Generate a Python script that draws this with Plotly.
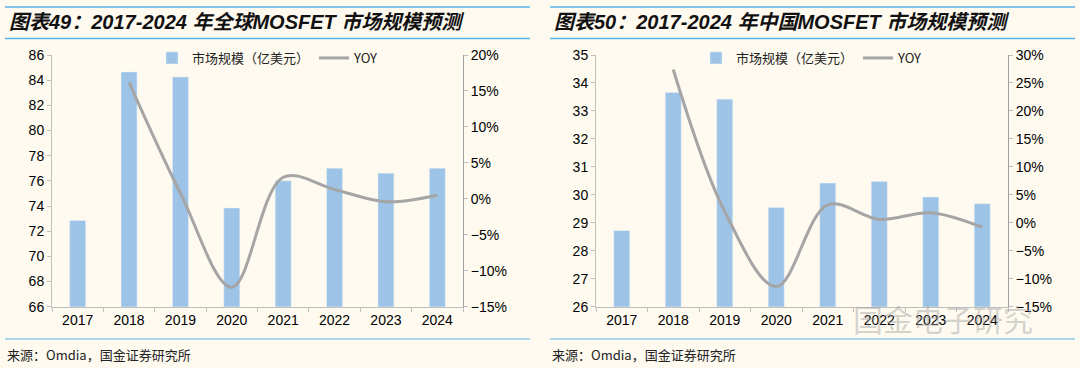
import plotly.graph_objects as go

years = ["2017", "2018", "2019", "2020", "2021", "2022", "2023", "2024"]
global_market = [72.85, 84.65, 84.25, 73.85, 76.0, 77.0, 76.6, 77.0]
global_yoy = [None, 16.2, 0.8, -12.3, 3.0, 1.3, -0.4, 0.5]
china_market = [28.72, 33.66, 33.42, 29.55, 30.42, 30.48, 29.92, 29.68]
china_yoy = [None, 27.4, 2.0, -11.4, 3.2, 0.6, 1.8, -0.8]

title_left = "<i><b>图表49：2017-2024 年全球MOSFET 市场规模预测</b></i>"
title_right = "<i><b>图表50：2017-2024 年中国MOSFET 市场规模预测</b></i>"
source_text = "来源：Omdia，国金证券研究所"
bar_name = "市场规模（亿美元）"
line_name = "YOY"
watermark = "国金电子研究"

BG = "#FEFAF0"
BAR = "#9DC3E6"
LINE = "#A5A5A5"
AX = "#BFBFBF"
FONT = "Liberation Sans, Noto Sans CJK SC, sans-serif"
CJK = "Noto Sans CJK SC, sans-serif"

W, H = 1080, 368
def px(x):
    return x / W
def py(y):
    return 1 - y / H

fig = go.Figure()
fig.add_trace(go.Bar(x=years, y=global_market, name=bar_name, marker_color=BAR,
                     width=0.31, xaxis="x", yaxis="y", legend="legend"))
fig.add_trace(go.Scatter(x=years, y=global_yoy, name=line_name, mode="lines",
                         line=dict(color=LINE, width=3, shape="spline", smoothing=1.0),
                         xaxis="x", yaxis="y2", legend="legend"))
fig.add_trace(go.Bar(x=years, y=china_market, name=bar_name, marker_color=BAR,
                     width=0.31, xaxis="x2", yaxis="y3", legend="legend2"))
fig.add_trace(go.Scatter(x=years, y=china_yoy, name=line_name, mode="lines",
                         line=dict(color=LINE, width=3, shape="spline", smoothing=1.0),
                         xaxis="x2", yaxis="y4", legend="legend2"))

ydom = [py(306.7), py(55)]
xdom1 = [px(52), px(463)]
xdom2 = [px(596), px(1008)]
tickfont = dict(family=FONT, size=14, color="#000000")

def xax(domain, anchor):
    return dict(domain=domain, anchor=anchor, type="category", showgrid=False,
                showline=True, linecolor=AX, linewidth=1, ticks="outside",
                tickson="boundaries", ticklen=4, tickcolor=AX, tickfont=tickfont,
                automargin=False)

def yl(rng, dtick, anchor):
    return dict(domain=ydom, anchor=anchor, range=rng, dtick=dtick, showgrid=False,
                showline=True, linecolor=AX, linewidth=1, ticks="outside", ticklen=4,
                tickcolor=AX, tickfont=tickfont, zeroline=False, automargin=False)

def yr(rng, dtick, anchor, overlay):
    return dict(domain=ydom, anchor=anchor, overlaying=overlay, side="right",
                range=rng, dtick=dtick, ticksuffix="%", showgrid=False,
                showline=True, linecolor="#A0A0A0", linewidth=1, ticks="outside",
                ticklen=4, tickcolor=AX, tickfont=tickfont, zeroline=False,
                automargin=False)

legend_common = dict(orientation="h", yanchor="middle", xanchor="center",
                     bgcolor="rgba(0,0,0,0)", font=dict(family=CJK, size=13, color="#222"),
                     itemwidth=30, tracegroupgap=0)

fig.update_layout(
    width=W, height=H,
    margin=dict(l=0, r=0, t=0, b=0, autoexpand=False),
    paper_bgcolor=BG, plot_bgcolor=BG,
    xaxis=xax(xdom1, "y"),
    yaxis=yl([66, 86], 2, "x"),
    yaxis2=yr([-15, 20], 5, "x", "y"),
    xaxis2=xax(xdom2, "y3"),
    yaxis3=yl([26, 35], 1, "x2"),
    yaxis4=yr([-15, 30], 5, "x2", "y3"),
    legend=dict(x=px(268), y=py(58), **legend_common),
    legend2=dict(x=px(812), y=py(58), **legend_common),
    showlegend=True,
)

shapes = []
for x0, x1 in [(5, 530), (550, 1075)]:
    for y in (7, 38.5):
        shapes.append(dict(type="line", xref="paper", yref="paper", x0=px(x0), x1=px(x1),
                           y0=py(y), y1=py(y), line=dict(color="#5BB5E8", width=1.5)))
    shapes.append(dict(type="line", xref="paper", yref="paper", x0=px(x0), x1=px(x1),
                       y0=py(339), y1=py(339), line=dict(color="#5BB5E8", width=1.2)))
fig.update_layout(shapes=shapes)

ann = []
ann.append(dict(text=title_left, x=px(7), y=py(22), xref="paper", yref="paper",
                xanchor="left", yanchor="middle", showarrow=False,
                font=dict(family=FONT, size=20, color="#111")))
ann.append(dict(text=title_right, x=px(552), y=py(22), xref="paper", yref="paper",
                xanchor="left", yanchor="middle", showarrow=False,
                font=dict(family=FONT, size=20, color="#111")))
for x0 in (5, 550):
    ann.append(dict(text=source_text, x=px(x0), y=py(354), xref="paper", yref="paper",
                    xanchor="left", yanchor="middle", showarrow=False,
                    font=dict(family=CJK, size=13, color="#222")))
ann.append(dict(text=watermark, x=px(1035), y=py(318), xref="paper", yref="paper",
                xanchor="right", yanchor="middle", showarrow=False,
                font=dict(family=CJK, size=30, color="rgba(160,160,160,0.45)")))
fig.update_layout(annotations=ann)

fig.write_html("out.html",
               config={"displayModeBar": False},
               post_script="document.body.style.margin='0';"
                           "document.body.style.background='#FEFAF0';"
                           "document.documentElement.style.overflow='hidden';")
